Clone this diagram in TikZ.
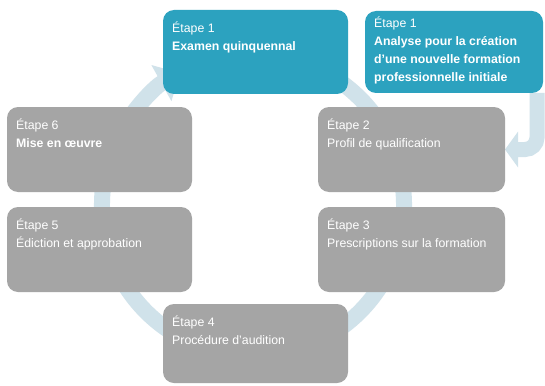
\documentclass[tikz,border=0pt]{standalone}
\usepackage{fontspec}
\setmainfont{Liberation Sans}
\usetikzlibrary{arrows.meta}
\definecolor{bluebox}{HTML}{2CA2BF}
\definecolor{graybox}{HTML}{A5A5A5}
\definecolor{ringblue}{HTML}{D0E2EA}
\newcommand\mystrut{\rule{0pt}{13pt}}
\pgfdeclarelayer{background}
\pgfsetlayers{background,main}
\begin{document}
\begin{tikzpicture}[x=1pt,y=-1pt,
  boxbase/.style={draw=none, rounded corners=11pt, inner sep=0pt, outer sep=0pt, anchor=north west},
  bbox/.style={boxbase, fill=bluebox},
  gbox/.style={boxbase, fill=graybox},
  txt/.style={text=white, align=left, anchor=north west, inner sep=0pt, font=\fontsize{12.3}{18}\selectfont},
  ring/.style={draw=ringblue, line width=16pt, -{Triangle[length=21pt,width=40pt]}},
  bent/.style={draw=ringblue, line width=15pt, rounded corners=12pt, -{Triangle[length=13pt,width=35pt]}}]
\useasboundingbox (0,0) rectangle (545,385);
\coordinate (c) at (253,205);
% boxes
\node[bbox, minimum width=185pt, minimum height=84pt] (b1) at (163,10) {};
\node[bbox, minimum width=178pt, minimum height=82pt] (b1b) at (365,11) {};
\node[gbox, minimum width=187pt, minimum height=85pt] (b2) at (318,107) {};
\node[gbox, minimum width=187pt, minimum height=85pt] (b3) at (318,207) {};
\node[gbox, minimum width=185pt, minimum height=79pt] (b4) at (163,304) {};
\node[gbox, minimum width=185pt, minimum height=85pt] (b5) at (7,207) {};
\node[gbox, minimum width=185pt, minimum height=85pt] (b6) at (7,107) {};
% connectors behind the boxes
\begin{pgfonlayer}{background}
\fill[white] (0,0) rectangle (545,385);
\path[ring] (c) ++(-60:151) arc[start angle=-60, end angle=241, radius=151];
\path[bent] ([xshift=-6pt]b1b.south east) |- (b2.east);
\end{pgfonlayer}
% texts
\node[txt] (t1) at ([shift={(9,9)}]b1.north west) {\mystrut Étape 1\\\textbf{Examen quinquennal}};
\node[txt] (t1b) at ([shift={(9,3.5)}]b1b.north west) {\mystrut Étape 1\\\textbf{Analyse pour la création}\\\textbf{d’une nouvelle formation}\\\textbf{professionnelle initiale}};
\node[txt] (t2) at ([shift={(9,9)}]b2.north west) {\mystrut Étape 2\\Profil de qualification};
\node[txt] (t3) at ([shift={(9,9)}]b3.north west) {\mystrut Étape 3\\Prescriptions sur la formation};
\node[txt] (t4) at ([shift={(9,9)}]b4.north west) {\mystrut Étape 4\\Procédure d’audition};
\node[txt] (t5) at ([shift={(9,9)}]b5.north west) {\mystrut Étape 5\\Édiction et approbation};
\node[txt] (t6) at ([shift={(9,9)}]b6.north west) {\mystrut Étape 6\\\textbf{Mise en œuvre}};
\end{tikzpicture}
\end{document}
